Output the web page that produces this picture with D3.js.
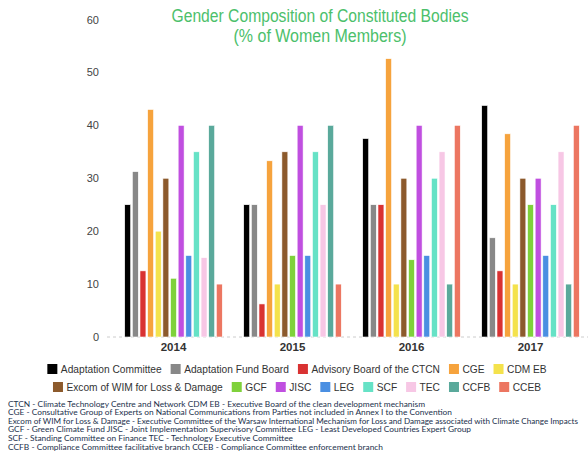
<!DOCTYPE html>
<html lang="en">
<head>
<meta charset="utf-8">
<style>
  body { margin: 0; background: #fff; }
  svg { display: block; }
</style>
<title>Gender Composition of Constituted Bodies</title>
</head>
<body>
<div id="chart"></div>
<script src="https://d3js.org/d3.v7.min.js"></script>
<script>
const years = ["2014", "2015", "2016", "2017"];
const bodies = ["Adaptation Committee", "Adaptation Fund Board", "Advisory Board of the CTCN", "CGE", "CDM EB",
  "Excom of WIM for Loss & Damage", "GCF", "JISC", "LEG", "SCF", "TEC", "CCFB", "CCEB"];
// % of women members, one row per body, columns = years
const adaptationCommittee = [25, 25, 37.5, 43.75];
const adaptationFundBoard = [31.25, 25, 25, 18.75];
const advisoryBoardCTCN = [12.5, 6.25, 25, 12.5];
const cge = [43, 33.3, 52.6, 38.4];
const cdmEb = [20, 10, 10, 10];
const excomWim = [30, 35, 30, 30];
const gcf = [11.1, 15.4, 14.6, 25];
const jisc = [40, 40, 40, 30];
const leg = [15.4, 15.4, 15.4, 15.4];
const scf = [35, 35, 30, 25];
const tec = [15, 25, 35, 35];
const ccfb = [40, 40, 10, 10];
const cceb = [10, 10, 40, 40];
const yTicks = [0, 10, 20, 30, 40, 50, 60];
const colors = ["#000000", "#888888", "#d93232", "#f6a33d", "#f4e24c", "#8c5a2c", "#7fd13b",
  "#c04fe0", "#4a8fe2", "#66e2c6", "#f7c7e5", "#5aa99b", "#ec7661"];
const notes = [
  "CTCN - Climate Technology Centre and Network  CDM EB - Executive Board of the clean development mechanism",
  "CGE - Consultative Group of Experts on National Communications from Parties not included in Annex I to the Convention",
  "Excom of WIM for Loss & Damage - Executive Committee of the Warsaw International Mechanism for Loss and Damage associated with Climate Change Impacts",
  "GCF - Green Climate Fund JISC - Joint Implementation Supervisory Committee  LEG - Least Developed Countries Expert Group",
  "SCF - Standing Committee on Finance  TEC - Technology Executive Committee",
  "CCFB - Compliance Committee facilitative branch CCEB - Compliance Committee enforcement branch"
];
const noteWidths = [417, 444, 570, 463, 285, 375];

const series = [adaptationCommittee, adaptationFundBoard, advisoryBoardCTCN, cge, cdmEb, excomWim,
  gcf, jisc, leg, scf, tec, ccfb, cceb];

const w = 588, h = 455;
const svg = d3.select("#chart").append("svg").attr("width", w).attr("height", h);

const x0 = d3.scaleBand().domain(years).range([114, 590]).paddingInner(0.18).paddingOuter(0.09);
const x1 = d3.scaleBand().domain(bodies).range([0, x0.bandwidth()]).paddingInner(0.22);
const y = d3.scaleLinear().domain([0, 60]).range([337, 19.5]);
const color = d3.scaleOrdinal().domain(bodies).range(colors);

// title (condensed look via textLength)
const titleFont = "Liberation Sans Narrow, Arial Narrow, Liberation Sans, sans-serif";
svg.append("text").attr("x", 320).attr("y", 22).attr("text-anchor", "middle")
  .attr("font-family", titleFont).attr("font-size", 18).attr("fill", "#4cc06b")
  .attr("textLength", 297).attr("lengthAdjust", "spacingAndGlyphs")
  .text("Gender Composition of Constituted Bodies");
svg.append("text").attr("x", 320).attr("y", 42).attr("text-anchor", "middle")
  .attr("font-family", titleFont).attr("font-size", 18).attr("fill", "#4cc06b")
  .attr("textLength", 173).attr("lengthAdjust", "spacingAndGlyphs")
  .text("(% of Women Members)");

// y axis labels only
const yAxis = d3.axisLeft(y).tickValues(yTicks).tickSize(0).tickPadding(0);
const gy = svg.append("g").attr("transform", "translate(99,0)").call(yAxis);
gy.select(".domain").remove();
gy.selectAll("text").attr("font-family", "Liberation Sans, Arial, sans-serif")
  .attr("font-size", 11).attr("fill", "#444");

// baseline
svg.append("line").attr("x1", 107).attr("x2", 588).attr("y1", y(0)).attr("y2", y(0))
  .attr("stroke", "#ccc").attr("stroke-dasharray", "3,3");

// bars
const groups = svg.append("g").selectAll("g").data(years).join("g")
  .attr("transform", d => `translate(${x0(d)},0)`);
groups.selectAll("rect")
  .data((yr, i) => bodies.map((b, j) => ({ body: b, value: series[j][i] })))
  .join("rect")
  .attr("x", d => x1(d.body))
  .attr("y", d => y(d.value))
  .attr("width", x1.bandwidth())
  .attr("height", d => y(0) - y(d.value))
  .attr("fill", d => color(d.body))
  .attr("stroke", "#fff").attr("stroke-width", 0.6);

// x labels
const xAxis = d3.axisBottom(x0).tickSize(0).tickPadding(0);
const gx = svg.append("g").attr("transform", `translate(0,${y(0) + 6})`).call(xAxis);
gx.select(".domain").remove();
gx.selectAll("text").attr("font-family", "Liberation Sans, Arial, sans-serif")
  .attr("font-size", 11.5).attr("font-weight", "bold").attr("fill", "#333");

// legend
const rows = [bodies.slice(0, 5), bodies.slice(5)];
const rowY = [369, 387];
rows.forEach((row, r) => {
  const g = svg.append("g");
  let cx = 0;
  row.forEach(b => {
    const it = g.append("g").attr("transform", `translate(${cx},0)`);
    it.append("rect").attr("x", 0).attr("y", -5).attr("width", 10).attr("height", 10).attr("fill", color(b));
    const t = it.append("text").attr("x", 13.5).attr("y", 4)
      .attr("font-family", "Liberation Sans, Arial, sans-serif").attr("font-size", 10.2)
      .attr("fill", "#333").text(b);
    cx += 13.5 + t.node().getComputedTextLength() + 9;
  });
  cx -= 9;
  g.attr("transform", `translate(${297 - cx / 2},${rowY[r]})`);
});

// footnotes
svg.append("g").selectAll("text").data(notes).join("text")
  .attr("x", 8).attr("y", (d, i) => 406.5 + i * 8.6)
  .attr("font-family", "Lato, sans-serif").attr("font-size", 8.2)
  .attr("fill", "#22304c")
  .attr("textLength", (d, i) => noteWidths[i]).attr("lengthAdjust", "spacingAndGlyphs")
  .text(d => d);
</script>
</body>
</html>
